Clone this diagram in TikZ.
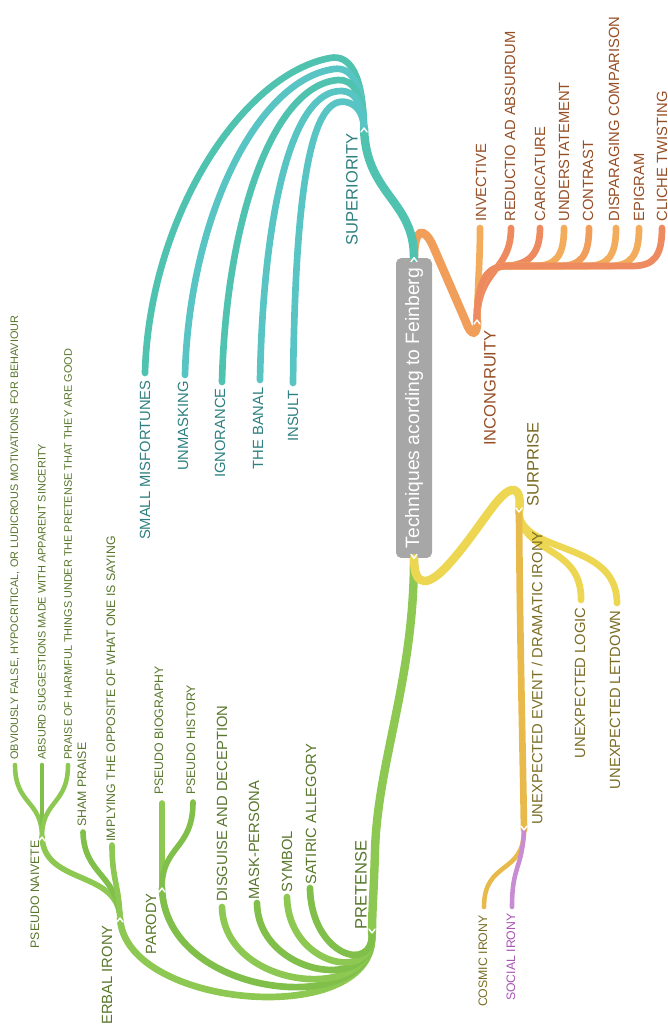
\documentclass[tikz,border=0pt]{standalone}
\usepackage{fontspec}
\setmainfont{Liberation Sans}
\usetikzlibrary{calc}
\definecolor{rootgray}{RGB}{167,167,167}
\definecolor{tealA}{RGB}{80,194,176}
\definecolor{tealB}{RGB}{88,197,196}
\definecolor{tealtext}{RGB}{46,128,128}
\definecolor{salmon1}{RGB}{238,138,96}
\definecolor{orange1}{RGB}{242,172,92}
\definecolor{orange2}{RGB}{240,158,90}
\definecolor{orangetext}{RGB}{150,78,36}
\definecolor{green1}{RGB}{141,200,82}
\definecolor{green2}{RGB}{128,192,74}
\definecolor{greentext}{RGB}{88,118,44}
\definecolor{yellow1}{RGB}{237,214,82}
\definecolor{gold1}{RGB}{232,186,76}
\definecolor{yellowtext}{RGB}{122,108,36}
\definecolor{violet1}{RGB}{200,140,210}
\definecolor{violettext}{RGB}{168,84,178}

\tikzset{
  link/.style={line cap=round, line width=4.8pt},
  twig/.style={line cap=round, line width=3.8pt},
  twigB/.style={line cap=round, line width=3.2pt},
  twigC/.style={line cap=round, line width=2.6pt},
  head/.style={rotate=90, inner sep=0pt, font=\fontsize{9.4}{11}\selectfont},
  leaf/.style={rotate=90, inner sep=0pt, font=\fontsize{8.4}{10}\selectfont},
  leafB/.style={rotate=90, inner sep=0pt, font=\fontsize{7}{8}\selectfont},
  leafC/.style={rotate=90, inner sep=0pt, font=\fontsize{6.2}{7}\selectfont},
  notchmark/.style={white, line width=0.8pt, line cap=round, line join=round}
}

\begin{document}
\begin{tikzpicture}[x=0.02cm, y=-0.02cm]
  \useasboundingbox (0,0) rectangle (668,1024);

  % centre
  \node[fill=rootgray, text=white, rounded corners=3pt, rotate=90, minimum width=6cm,
        minimum height=0.72cm, inner sep=0pt, font=\fontsize{11}{13}\selectfont] (root) at (414,408)
        {Techniques acording to Feinberg};

  % joints and ends
  \coordinate (sup) at (364,128);
  \coordinate (inc) at (477,320);
  \coordinate (pre) at (372,933);
  \coordinate (sur) at (519,512);

  \coordinate (smf) at (145,373);
  \coordinate (unm) at (185,375);
  \coordinate (ign) at (222,382);
  \coordinate (ban) at (260,380);
  \coordinate (ins) at (293,383);

  \coordinate (inv) at (480,228);
  \coordinate (red) at (511,228);
  \coordinate (car) at (540,228);
  \coordinate (und) at (564,228);
  \coordinate (con) at (589,228);
  \coordinate (dsp) at (616,228);
  \coordinate (epi) at (639,228);
  \coordinate (cli) at (662,228);

  \coordinate (vi) at (120,918);
  \coordinate (par) at (162,888);
  \coordinate (dis) at (222,907);
  \coordinate (msk) at (257,903);
  \coordinate (sym) at (287,897);
  \coordinate (sat) at (310,888);
  \coordinate (pn) at (42,837);
  \coordinate (sp) at (83,832);
  \coordinate (imp) at (112,845);
  \coordinate (obv) at (15,765);
  \coordinate (abs) at (42,765);
  \coordinate (pra) at (68,765);
  \coordinate (pb) at (162,803);
  \coordinate (ph) at (193,802);

  \coordinate (ue) at (524,830);
  \coordinate (ul) at (581,600);
  \coordinate (uld) at (617,603);
  \coordinate (ci) at (484,907);
  \coordinate (si) at (512,907);

  % incongruity
  \draw[link, orange2] (root.east) .. controls (414,228) and (424,226) .. (433,246) -- (466,322)
        .. controls (471,337) and (478,336) .. (inc);
  \draw[twig, orange1] (inc) .. controls (478,280) and (480,260) .. (inv);
  \draw[twig, salmon1] (inc) .. controls (478,268) and (511,272) .. (red);
  \draw[twig, salmon1] (inc) .. controls (477,285) and (485,267) .. (505,266)
        .. controls (528,265) and (540,255) .. (car);
  \draw[twig, orange1] (inc) .. controls (477,285) and (485,267) .. (505,266) -- (534,266)
        .. controls (556,266) and (564,256) .. (und);
  \draw[twig, orange2] (inc) .. controls (477,285) and (485,267) .. (505,266) -- (559,266)
        .. controls (581,266) and (589,256) .. (con);
  \draw[twig, orange1] (inc) .. controls (477,285) and (485,267) .. (505,266) -- (586,266)
        .. controls (608,266) and (616,256) .. (dsp);
  \draw[twig, orange1] (inc) .. controls (477,285) and (485,267) .. (505,266) -- (609,266)
        .. controls (631,266) and (639,256) .. (epi);
  \draw[twig, salmon1] (inc) .. controls (477,285) and (485,267) .. (505,266) -- (632,266)
        .. controls (654,266) and (662,256) .. (cli);

  % superiority
  \draw[link, tealA] (root.east) .. controls (414,200) and (366,195) .. (sup);
  \draw[twig, tealA] (sup) .. controls (363,75) and (350,54) .. (330,58)
        .. controls (240,75) and (149,220) .. (smf);
  \draw[twig, tealB] (sup) .. controls (363,84) and (351.5,66.5) .. (334,69)
        .. controls (256,80) and (189,220) .. (unm);
  \draw[twig, tealA] (sup) .. controls (363,94) and (353,79) .. (338,80)
        .. controls (273,85) and (226,220) .. (ign);
  \draw[twig, tealB] (sup) .. controls (363,103) and (354.5,91.5) .. (342,91)
        .. controls (290,89) and (263,220) .. (ban);
  \draw[twig, tealB] (sup) .. controls (363,112) and (356,104) .. (346,102)
        .. controls (306,94) and (295,220) .. (ins);

  % pretense
  \draw[link, green1] (root.west) .. controls (414,680) and (378,760) .. (375,850)
        .. controls (374,890) and (372,910) .. (pre);
  \draw[twig, green1] (pre) .. controls (380,1030) and (125,1010) .. (vi);
  \draw[twig, green2] (pre) .. controls (378,1020) and (165,1000) .. (par);
  \draw[twig, green1] (pre) .. controls (376,1005) and (224,990) .. (dis);
  \draw[twig, green2] (pre) .. controls (375,995) and (258,975) .. (msk);
  \draw[twig, green1] (pre) .. controls (374,985) and (288,965) .. (sym);
  \draw[twig, green2] (pre) .. controls (373,975) and (311,955) .. (sat);
  \draw[twigB, green1] (vi) .. controls (118,870) and (44,885) .. (pn);
  \draw[twigB, green2] (vi) .. controls (118,875) and (84,875) .. (sp);
  \draw[twigB, green1] (vi) .. controls (119,885) and (112,880) .. (imp);
  \draw[twigC, green1] (pn) .. controls (42,800) and (15,805) .. (obv);
  \draw[twigC, green2] (pn) -- (abs);
  \draw[twigC, green1] (pn) .. controls (42,800) and (68,805) .. (pra);
  \draw[twigB, green1] (par) -- (pb);
  \draw[twigB, green2] (par) .. controls (162,845) and (193,850) .. (ph);

  % surprise
  \draw[link, yellow1] (root.west) .. controls (414,590) and (430,585) .. (448,565)
        .. controls (480,530) and (500,488) .. (514,490) .. controls (521,492) and (520,505) .. (sur);
  \draw[twig, yellow1] (sur) .. controls (522,555) and (582,545) .. (ul);
  \draw[twig, yellow1] (sur) .. controls (522,555) and (617,540) .. (uld);
  \draw[twig, gold1] (sur) .. controls (520,650) and (523,760) .. (ue);
  \draw[twigC, gold1] (ue) .. controls (524,875) and (484,860) .. (ci);
  \draw[twigC, violet1] (ue) .. controls (522,870) and (512,865) .. (si);

  % joint marks
  \foreach \j in {root.east, sup, inc, vi, par, pn}
    \draw[notchmark] ($(\j)+(-3,4)$) -- (\j) -- ($(\j)+(3,4)$);
  \foreach \j in {root.west, pre, sur, ue}
    \draw[notchmark] ($(\j)+(-3,-4)$) -- (\j) -- ($(\j)+(3,-4)$);

  % labels
  \node[head, text=tealtext, anchor=east] (supl) at ($(sup)+(-12,5)$) {SUPERIORITY};
  \node[leaf, text=tealtext, anchor=east] (smfl) at ($(smf)+(0,7)$) {SMALL MISFORTUNES};
  \node[leaf, text=tealtext, anchor=east] (unml) at ($(unm)+(-2,6)$) {UNMASKING};
  \node[leaf, text=tealtext, anchor=east] (ignl) at ($(ign)+(-2,6)$) {IGNORANCE};
  \node[leaf, text=tealtext, anchor=east] (banl) at ($(ban)+(-2,7)$) {THE BANAL};
  \node[leaf, text=tealtext, anchor=east] (insl) at ($(ins)+(0,7)$) {INSULT};

  \node[head, text=orangetext, anchor=east] (incl) at ($(inc)+(13,10)$) {INCONGRUITY};
  \node[leaf, text=orangetext, anchor=west] (invl) at ($(inv)+(1,-6)$) {INVECTIVE};
  \node[leaf, text=orangetext, anchor=west] (redl) at ($(red)+(-1,-6)$) {REDUCTIO AD ABSURDUM};
  \node[leaf, text=orangetext, anchor=west] (carl) at ($(car)+(0,-6)$) {CARICATURE};
  \node[leaf, text=orangetext, anchor=west] (undl) at ($(und)+(0,-6)$) {UNDERSTATEMENT};
  \node[leaf, text=orangetext, anchor=west] (conl) at ($(con)+(-1,-6)$) {CONTRAST};
  \node[leaf, text=orangetext, anchor=west] (dspl) at ($(dsp)+(-2,-6)$) {DISPARAGING COMPARISON};
  \node[leaf, text=orangetext, anchor=west] (epil) at ($(epi)+(0,-6)$) {EPIGRAM};
  \node[leaf, text=orangetext, anchor=west] (clil) at ($(cli)+(0,-6)$) {CLICHE TWISTING};

  \node[head, text=greentext, anchor=west] (prel) at ($(pre)+(-11,-3)$) {PRETENSE};
  \node[leaf, text=greentext, anchor=east] (vil) at ($(vi)+(-13,7)$) {VERBAL IRONY};
  \node[leaf, text=greentext, anchor=east] (parl) at ($(par)+(-11,5)$) {PARODY};
  \node[leaf, text=greentext, anchor=west] (disl) at ($(dis)+(0,-5)$) {DISGUISE AND DECEPTION};
  \node[leaf, text=greentext, anchor=west] (mskl) at ($(msk)+(-3,-3)$) {MASK-PERSONA};
  \node[leaf, text=greentext, anchor=west] (syml) at ($(sym)+(0,-4)$) {SYMBOL};
  \node[leaf, text=greentext, anchor=west] (satl) at ($(sat)+(1,-3)$) {SATIRIC ALLEGORY};
  \node[leafB, text=greentext, anchor=east] (pnl) at ($(pn)+(-7,3)$) {PSEUDO NAIVETE};
  \node[leafB, text=greentext, anchor=west] (spl) at ($(sp)+(-1,-5)$) {SHAM PRAISE};
  \node[leafB, text=greentext, anchor=west] (impl) at ($(imp)+(-1,-3)$) {IMPLYING THE OPPOSITE OF WHAT ONE IS SAYING};
  \node[leafB, text=greentext, anchor=west] (pbl) at ($(pb)+(-3,-8)$) {PSEUDO BIOGRAPHY};
  \node[leafB, text=greentext, anchor=west] (phl) at ($(ph)+(-2,-7)$) {PSEUDO HISTORY};
  \node[leafC, text=greentext, anchor=west] (obvl) at ($(obv)+(0,-5)$) {OBVIOUSLY FALSE, HYPOCRITICAL, OR LUDICROUS MOTIVATIONS FOR BEHAVIOUR};
  \node[leafC, text=greentext, anchor=west] (absl) at ($(abs)+(0,-5)$) {ABSURD SUGGESTIONS MADE WITH APPARENT SINCERITY};
  \node[leafC, text=greentext, anchor=west] (pral) at ($(pra)+(0,-5)$) {PRAISE OF HARMFUL THINGS UNDER THE PRETENSE THAT THEY ARE GOOD};

  \node[head, text=yellowtext, anchor=west] (surl) at ($(sur)+(14,-5)$) {SURPRISE};
  \node[leaf, text=yellowtext, anchor=west] (uel) at ($(ue)+(13,-5)$) {UNEXPECTED EVENT / DRAMATIC IRONY};
  \node[leaf, text=yellowtext, anchor=east] (ull) at ($(ul)+(-1,7)$) {UNEXPECTED LOGIC};
  \node[leaf, text=yellowtext, anchor=east] (uldl) at ($(uld)+(-2,7)$) {UNEXPECTED LETDOWN};
  \node[leafB, text=yellowtext, anchor=east] (cil) at ($(ci)+(-1,8)$) {COSMIC IRONY};
  \node[leafB, text=violettext, anchor=east] (sil) at ($(si)+(-1,6)$) {SOCIAL IRONY};
\end{tikzpicture}
\end{document}
